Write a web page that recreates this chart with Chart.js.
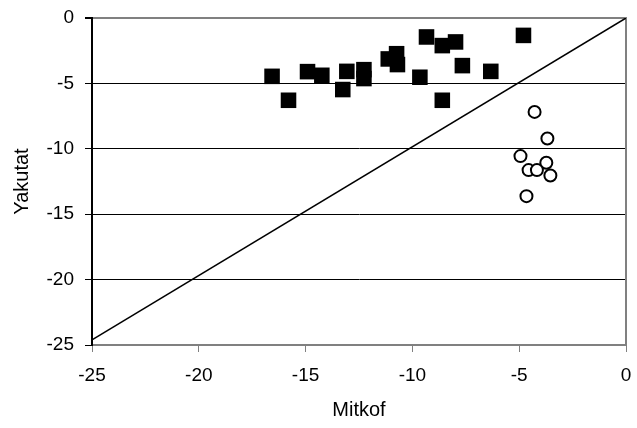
<!DOCTYPE html>
<html>
<head>
<meta charset="utf-8">
<script src="https://cdn.jsdelivr.net/npm/chart.js@4"></script>
<style>
  body { margin: 0; background: #fff; }
</style>
</head>
<body>
<canvas id="chart" width="637" height="428"></canvas>
<script>
// filled squares
const mitkofSquares = [-16.57, -15.8, -14.91, -14.24, -13.07, -13.26, -12.27, -12.27, -11.13, -10.74,
                       -10.7, -9.65, -9.34, -8.6, -7.98, -8.6, -7.66, -6.33, -4.8];
const yakutatSquares = [-4.46, -6.29, -4.10, -4.38, -4.08, -5.47, -3.95, -4.63, -3.13, -2.73,
                        -3.56, -4.53, -1.45, -2.11, -1.83, -6.29, -3.64, -4.08, -1.33];

// open circles
const mitkofCircles = [-4.28, -3.68, -4.94, -3.73, -4.56, -4.17, -3.54, -4.66];
const yakutatCircles = [-7.18, -9.21, -10.56, -11.07, -11.63, -11.63, -12.04, -13.62];

// reference line
const lineX = [-25, 0];
const lineY = [-24.6, 0];

const axisTicks = [-25, -20, -15, -10, -5, 0];

function toPoints(xs, ys) {
    return xs.map((x, i) => ({ x: x, y: ys[i] }));
}

Chart.defaults.font.family = "'Liberation Sans', Arial, sans-serif";
Chart.defaults.color = "#000";

const ctx = document.getElementById("chart").getContext("2d");

new Chart(ctx, {
    type: "scatter",
    data: {
        datasets: [
            {
                type: "line",
                data: toPoints(lineX, lineY),
                borderColor: "#000",
                borderWidth: 1.5,
                pointRadius: 0,
                fill: false,
            },
            {
                data: toPoints(mitkofSquares, yakutatSquares),
                pointStyle: "rect",
                pointRadius: 11,
                backgroundColor: "#000",
                borderWidth: 0,
            },
            {
                data: toPoints(mitkofCircles, yakutatCircles),
                pointStyle: "circle",
                pointRadius: 6,
                backgroundColor: "#fff",
                borderColor: "#000",
                borderWidth: 2,
            },
        ],
    },
    options: {
        responsive: false,
        animation: false,
        layout: { autoPadding: false, padding: { top: 18, right: 0, left: 0, bottom: 0 } },
        plugins: {
            legend: { display: false },
            tooltip: { enabled: false },
        },
        scales: {
            x: {
                type: "linear",
                min: -25,
                max: 0,
                afterBuildTicks: (scale) => { scale.ticks = axisTicks.map((v) => ({ value: v })); },
                afterFit: (scale) => { scale.height = 83; },
                // small padding keeps the right edge tight; tall lineHeight pushes labels down
                ticks: { font: { size: 19, lineHeight: 1.93 }, padding: 5, maxRotation: 0 },
                grid: {
                    color: "rgba(0,0,0,0)",
                    tickColor: "#808080",
                    tickLength: 7,
                },
                border: { color: "#808080", width: 2 },
                title: {
                    display: true,
                    text: "Mitkof",
                    font: { size: 20 },
                    padding: { top: 0, bottom: 6 },
                },
            },
            y: {
                min: -25,
                max: 0,
                afterBuildTicks: (scale) => { scale.ticks = axisTicks.map((v) => ({ value: v })); },
                afterFit: (scale) => { scale.width = 92; },
                ticks: { font: { size: 19, lineHeight: 0.6 }, padding: 11 },
                grid: {
                    color: (c) => {
                        if (c.tick && c.tick.value === 0) return "#808080";
                        if (c.tick && c.tick.value === -25) return "rgba(0,0,0,0)";
                        return "#000";
                    },
                    lineWidth: (c) => (c.tick && c.tick.value === 0 ? 2 : 1),
                    tickColor: "#000",
                    tickLength: 7,
                },
                border: { color: "#000", width: 2 },
                title: {
                    display: true,
                    text: "Yakutat",
                    font: { size: 20 },
                    padding: { top: 10, bottom: 0 },
                },
            },
            // right frame edge
            yRight: {
                position: "right",
                min: -25,
                max: 0,
                afterFit: (scale) => { scale.width = 11; },
                ticks: { display: false },
                grid: { display: false },
                border: { display: true, color: "#808080", width: 2 },
            },
        },
    },
});
</script>
</body>
</html>
